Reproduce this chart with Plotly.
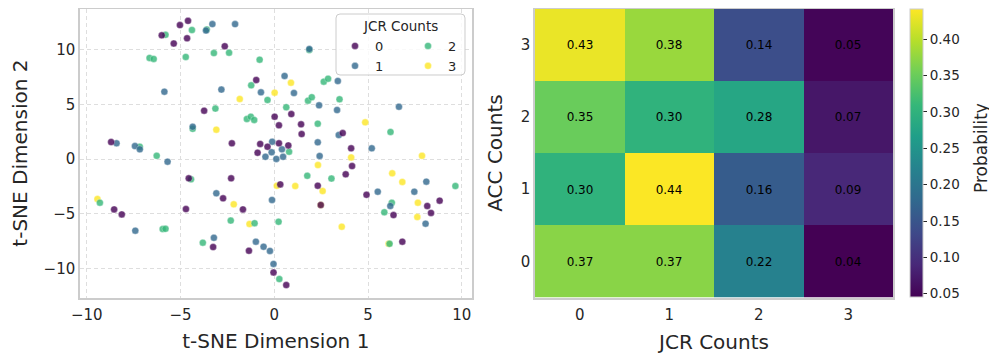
import plotly.graph_objects as go

# the page body has an 8px margin, so the figure is drawn 8px smaller and all
# pixel positions below are measured in window pixels and shifted by OFF
OFF = 8
W, H = 997 - OFF, 361 - OFF

# t-SNE points, one pair of lists per JCR count
jcr0_x = [-5.03, -4.6, -6.0, -5.36, -4.65, -2.64, -0.96, -3.74, 0.02, 0.25, -8.7, -2.26, -0.75, -0.36, 0.25,
          -0.89, 0.91, 1.43, 1.46, 3.65, 0.75, 4.1, -4.56, -2.3, -2.73, -1.67, -4.71, -8.54, -8.13, -3.26,
          -1.35, -0.04, 0.32, 4.15, 3.81, 2.32, 4.92, 2.48, 6.36, 8.16, 8.82, 8.36, 6.83, 0.64]
jcr0_y = [12.28, 12.67, 11.34, 10.59, 11.07, 10.34, 7.25, 4.44, 3.89, 3.10, 1.57, 1.45, 1.39, 1.14, 1.45,
          0.59, 4.13, 3.19, 2.30, 2.39, 1.26, 0.99, -1.76, -1.76, -3.59, -4.60, -4.57, -4.60, -5.06, -8.05,
          -8.39, -10.38, -2.31, -0.63, -1.39, -2.43, -3.26, -4.20, -5.12, -4.29, -3.80, -4.93, -7.56, -11.53]

jcr1_x = [-3.3, -3.64, -2.09, -0.71, -5.86, -2.82, -4.35, -8.41, -7.43, -7.17, -0.11, -0.14, -0.47, 0.11,
          -5.69, -3.09, -7.41, -3.22, -0.98, -0.57, -0.23, -0.04, -0.12, 1.87, 0.55, 3.39, 1.05, 2.39, 3.35,
          6.65, 3.44, 0.41, 0.47, 2.32, 5.2, 2.42, 8.11, 5.52, 7.47, 6.19, 8.07]
jcr1_y = [12.37, 11.78, 12.37, 6.12, 6.18, 6.37, 2.97, 1.45, 1.20, 0.90, 1.60, 0.63, 0.22, 0.02,
          -0.23, -3.13, -6.55, -7.20, -7.56, -8.02, -8.41, -9.60, -3.74, 10.09, 7.62, 7.16, 6.06, 4.93, 4.50,
          4.80, 2.21, 0.90, 0.22, 1.54, 0.99, 0.29, -2.06, -2.98, -2.98, -4.29, -5.91]

jcr2_x = [-4.39, -5.8, -3.6, -3.22, -2.41, -4.72, -6.65, -6.43, -0.78, -1.23, -0.36, -3.14, -1.46, -1.25,
          -1.07, -4.35, -7.17, -6.27, -4.44, -9.3, -5.95, -5.8, -2.32, -1.05, -3.81, 0.27, 0.23, 1.87, 2.64,
          2.87, 1.8, 2.0, 3.48, 0.64, 2.32, 6.2, 0.79, 1.76, 3.05, 9.66, 6.27, 5.87, 6.15]
jcr2_y = [11.83, 11.39, 11.88, 9.72, 9.75, 9.36, 9.27, 9.18, 9.11, 6.76, 5.42, 4.63, 3.68, 3.89,
          3.59, 2.78, 1.14, 0.31, -1.85, -3.99, -6.40, -6.38, -5.63, -5.87, -7.65, -10.98, -5.73, 10.0, 7.10,
          7.37, 5.36, 5.67, 5.48, 4.75, 3.25, 2.49, 0.68, -1.52, -1.78, -2.46, -3.99, -4.87, -7.75]

jcr3_x = [0.02, -1.84, -3.09, -2.16, -9.43, -1.32, 0.14, 0.89, 4.85, 4.1, 7.88, 2.33, 6.29, 6.83, 1.12,
          2.58, 2.48, 7.66, 7.63, 3.6, 6.1]
jcr3_y = [6.09, 5.51, 2.70, -4.14, -3.65, -5.94, -2.43, 7.0, 3.37, 0.16, 0.31, -0.54, -1.30, -2.09, -2.46,
          -2.92, -4.20, -3.99, -5.30, -6.19, -7.75]

# ACC (rows) x JCR (columns) probabilities
jcr_counts = [0, 1, 2, 3]
acc_counts = [0, 1, 2, 3]
prob = [
    [0.37, 0.37, 0.22, 0.04],
    [0.30, 0.44, 0.16, 0.09],
    [0.35, 0.30, 0.28, 0.07],
    [0.43, 0.38, 0.14, 0.05],
]

viridis4 = ["#440154", "#31688e", "#35b779", "#fde725"]
FONT = "DejaVu Sans"
TXT = "#262626"


def px_x(p):
    return min(1.0, max(0.0, (p - OFF) / W))


def px_y(p):
    return min(1.0, max(0.0, 1 - (p - OFF) / H))


fig = go.Figure()

series = [(jcr3_x, jcr3_y, 3), (jcr2_x, jcr2_y, 2), (jcr1_x, jcr1_y, 1), (jcr0_x, jcr0_y, 0)]
for xs, ys, k in series:
    fig.add_trace(go.Scatter(
        x=xs, y=ys, mode="markers", name=str(k),
        legend="legend" if k < 2 else "legend2",
        legendrank=k + 1,
        marker=dict(color=viridis4[k], size=7, opacity=0.8,
                    line=dict(color="rgba(255,255,255,0.6)", width=0.6)),
        xaxis="x", yaxis="y",
    ))

fig.add_trace(go.Heatmap(
    z=prob, x=jcr_counts, y=acc_counts,
    colorscale="Viridis", zmin=0.0455, zmax=0.4415,
    texttemplate="%{z:.2f}", textfont=dict(size=12, color="black", family=FONT),
    xaxis="x2", yaxis="y2", showscale=True,
    colorbar=dict(
        x=px_x(910), xanchor="left", xpad=0, ypad=0,
        y=px_y(153), yanchor="middle", len=288, lenmode="pixels", thickness=13,
        outlinecolor="#cccccc", outlinewidth=1,
        tickvals=[0.05, 0.10, 0.15, 0.20, 0.25, 0.30, 0.35, 0.40],
        ticktext=["0.05", "0.10", "0.15", "0.20", "0.25", "0.30", "0.35", "0.40"],
        ticks="outside", ticklen=4, tickcolor=TXT,
        tickfont=dict(size=13.5, color=TXT, family=FONT),
    ),
))

frame = dict(showline=True, linecolor="#cccccc", linewidth=1.5, mirror=True, ticks="", zeroline=False,
             automargin=False, tickfont=dict(size=15, color=TXT, family=FONT))

fig.update_layout(
    width=W, height=H, margin=dict(l=0, r=0, t=0, b=0, autoexpand=False),
    paper_bgcolor="white", plot_bgcolor="white",
    font=dict(family=FONT, color=TXT),
    xaxis=dict(domain=[px_x(80), px_x(471.7)], range=[-10.36, 10.53], anchor="y",
               tickvals=[-10, -5, 0, 5, 10], showgrid=True, gridcolor="#dedede", griddash="4px,3px",
               ticklabelstandoff=3,
               title=dict(text="t-SNE Dimension 1", font=dict(size=20, color=TXT), standoff=11), **frame),
    yaxis=dict(domain=[px_y(297.7), px_y(8.5)], range=[-12.69, 13.80], anchor="x",
               tickvals=[-10, -5, 0, 5, 10], showgrid=True, gridcolor="#dedede", griddash="4px,3px",
               title=dict(text="t-SNE Dimension 2", font=dict(size=20, color=TXT), standoff=17), **frame),
    xaxis2=dict(domain=[px_x(535), px_x(893)], range=[-0.5, 3.5], anchor="y2", tickvals=jcr_counts,
                showgrid=False, ticklabelstandoff=3,
                title=dict(text="JCR Counts", font=dict(size=20, color=TXT), standoff=12), **frame),
    yaxis2=dict(domain=[px_y(297.5), px_y(8.5)], range=[-0.5, 3.5], anchor="x2", tickvals=acc_counts,
                showgrid=False,
                title=dict(text="ACC Counts", font=dict(size=20, color=TXT), standoff=13), **frame),
    legend=dict(x=px_x(335), y=px_y(31), xanchor="left", yanchor="top", bgcolor="rgba(0,0,0,0)",
                font=dict(size=13, color=TXT), tracegroupgap=0),
    legend2=dict(x=px_x(408), y=px_y(31), xanchor="left", yanchor="top", bgcolor="rgba(0,0,0,0)",
                 font=dict(size=13, color=TXT), tracegroupgap=0),
)


# legend frame (rounded box) and its title
def rounded_box(x0, y0, x1, y1, r=4):
    X = lambda v: f"{px_x(v):.5f}"
    Y = lambda v: f"{px_y(v):.5f}"
    return (f"M {X(x0 + r)},{Y(y0)} L {X(x1 - r)},{Y(y0)} Q {X(x1)},{Y(y0)} {X(x1)},{Y(y0 + r)} "
            f"L {X(x1)},{Y(y1 - r)} Q {X(x1)},{Y(y1)} {X(x1 - r)},{Y(y1)} "
            f"L {X(x0 + r)},{Y(y1)} Q {X(x0)},{Y(y1)} {X(x0)},{Y(y1 - r)} "
            f"L {X(x0)},{Y(y0 + r)} Q {X(x0)},{Y(y0)} {X(x0 + r)},{Y(y0)} Z")


fig.add_shape(type="path", xref="paper", yref="paper", path=rounded_box(336, 14, 465, 75),
              fillcolor="rgba(255,255,255,0.8)", line=dict(color="#cccccc", width=1), layer="above")
fig.add_annotation(text="JCR Counts", xref="paper", yref="paper", x=px_x(400.5), y=px_y(26),
                   xanchor="center", yanchor="middle",
                   showarrow=False, font=dict(size=13.5, color=TXT, family=FONT))
# colorbar label
fig.add_annotation(text="Probability", xref="paper", yref="paper", x=px_x(981), y=px_y(148),
                   xanchor="center", yanchor="middle", textangle=-90,
                   showarrow=False, font=dict(size=17, color=TXT, family=FONT))

fig.write_html("out.html")
